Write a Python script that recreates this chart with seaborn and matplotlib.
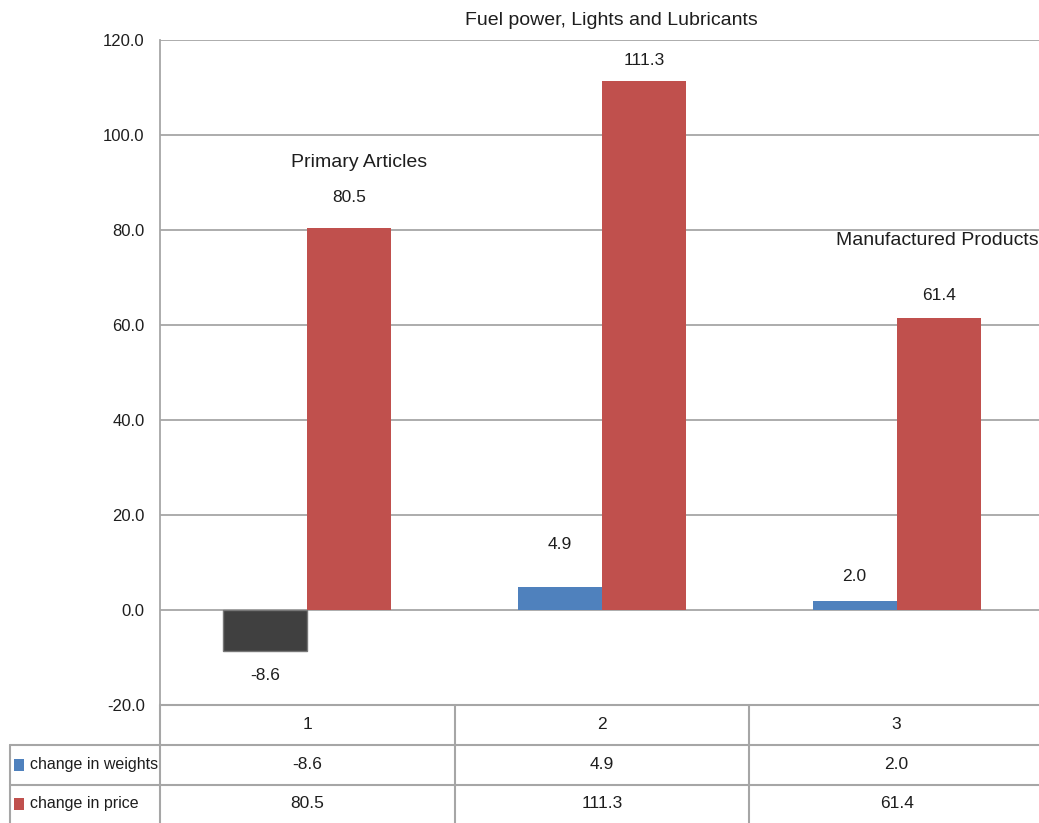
import matplotlib
matplotlib.use("Agg")
import matplotlib.pyplot as plt
import matplotlib.transforms as mtransforms
from matplotlib.lines import Line2D
from matplotlib.patches import Rectangle
import numpy as np
import pandas as pd
import seaborn as sns

# ---- data ----
categories = ["1", "2", "3"]
groups = ["Primary Articles", "Fuel power, Lights and Lubricants", "Manufactured Products"]
series = ["change in weights", "change in price"]
weights = [-8.6, 4.9, 2.0]
price = [80.5, 111.3, 61.4]

df = pd.DataFrame({
    "cat": categories * 2,
    "series": [series[0]] * len(categories) + [series[1]] * len(categories),
    "value": weights + price,
})

sns.set_style("white")
plt.rcParams["font.family"] = ["Liberation Sans", "DejaVu Sans"]
plt.rcParams["font.size"] = 12.5

BLUE = "#4F81BD"
RED = "#C0504D"
NEG = "#404040"
GRID = "#A6A6A6"
TXT = "#1e1e1e"

W, H = 1039, 823
fig = plt.figure(figsize=(W / 100, H / 100), dpi=100)
ax = fig.add_axes([160 / W, 118 / H, 879 / W, 665 / H])

sns.barplot(data=df, x="cat", y="value", hue="series", order=categories,
            hue_order=series, palette=[BLUE, RED], width=0.57, saturation=1,
            legend=False, ax=ax, zorder=3, linewidth=0)

# Excel style "invert if negative"
for p in ax.patches:
    if p.get_height() < 0:
        p.set_facecolor(NEG)
        p.set_edgecolor("#777777")
        p.set_linewidth(1)

ax.set_ylim(-20, 120)
ax.set_xlim(-0.5, 2.5 - 5 / 295)
ax.set_yticks(np.arange(-20, 121, 20))
ax.set_yticklabels([f"{v:.1f}" for v in np.arange(-20, 121, 20)], color=TXT, fontsize=12)
ax.tick_params(axis="y", length=0, pad=11)
ax.set_xticks([])
ax.set_xlabel("")
ax.set_ylabel("")
ax.grid(axis="y", color=GRID, linewidth=1.3, zorder=0)
ax.set_axisbelow(True)
for s in ["top", "right", "bottom"]:
    ax.spines[s].set_visible(False)
ax.spines["left"].set_color(GRID)
ax.spines["left"].set_linewidth(1.3)

# value labels (pixel offsets as placed in the original)
w_off = [-25, 42, 24]
p_off = [30, 21, 23]
for bars, vals, offs in [(ax.containers[0], weights, w_off), (ax.containers[1], price, p_off)]:
    for bar, v, o in zip(bars, vals, offs):
        cx = bar.get_x() + bar.get_width() / 2
        ax.annotate(f"{v:.1f}", (cx, v), xytext=(0, o), textcoords="offset pixels",
                    ha="center", va="center", fontsize=12.5, color=TXT, annotation_clip=False)

# group names above the price bars
g_off = [(10, 65), (-33, 61), (-1, 78)]
for bar, v, name, (dx, dy) in zip(ax.containers[1], price, groups, g_off):
    cx = bar.get_x() + bar.get_width() / 2
    ax.annotate(name, (cx, v), xytext=(dx, dy), textcoords="offset pixels",
                ha="center", va="center", fontsize=14, color=TXT, annotation_clip=False)

# ---- data table under the axis ----
fig_px = mtransforms.Affine2D().scale(1 / W, -1 / H).translate(0, 1) + fig.transFigure
mixed = mtransforms.blended_transform_factory(ax.transData, fig_px)


def hline(x0, x1, y):
    fig.add_artist(Line2D([x0, x1], [y, y], transform=fig_px, color=GRID, linewidth=1.5))


def vline(x, y0, y1):
    fig.add_artist(Line2D([x, x], [y0, y1], transform=fig_px, color=GRID, linewidth=1.5))


hline(160, W, 705)
hline(10, W, 745)
hline(10, W, 785)
vline(160, 705, 823)
vline(10, 745, 823)
for xb in [0.5, 1.5]:
    fig.add_artist(Line2D([xb, xb], [705, 823], transform=mixed, color=GRID, linewidth=1.5))

row_y = [725, 765, 804]
for i, cat in enumerate(categories):
    fig.text(i, row_y[0], cat, transform=mixed, ha="center", va="center", fontsize=12.5, color=TXT)
    fig.text(i, row_y[1], f"{weights[i]:.1f}", transform=mixed, ha="center", va="center", fontsize=12.5, color=TXT)
    fig.text(i, row_y[2], f"{price[i]:.1f}", transform=mixed, ha="center", va="center", fontsize=12.5, color=TXT)

for name, col, y in zip(series, [BLUE, RED], row_y[1:]):
    fig.add_artist(Rectangle((14, y + 6), 10, -12, transform=fig_px,
                             facecolor=col, edgecolor="none"))
    fig.text(30, y, name, transform=fig_px, ha="left", va="center", fontsize=11.5, color=TXT)

fig.savefig("out.png", dpi=100)
